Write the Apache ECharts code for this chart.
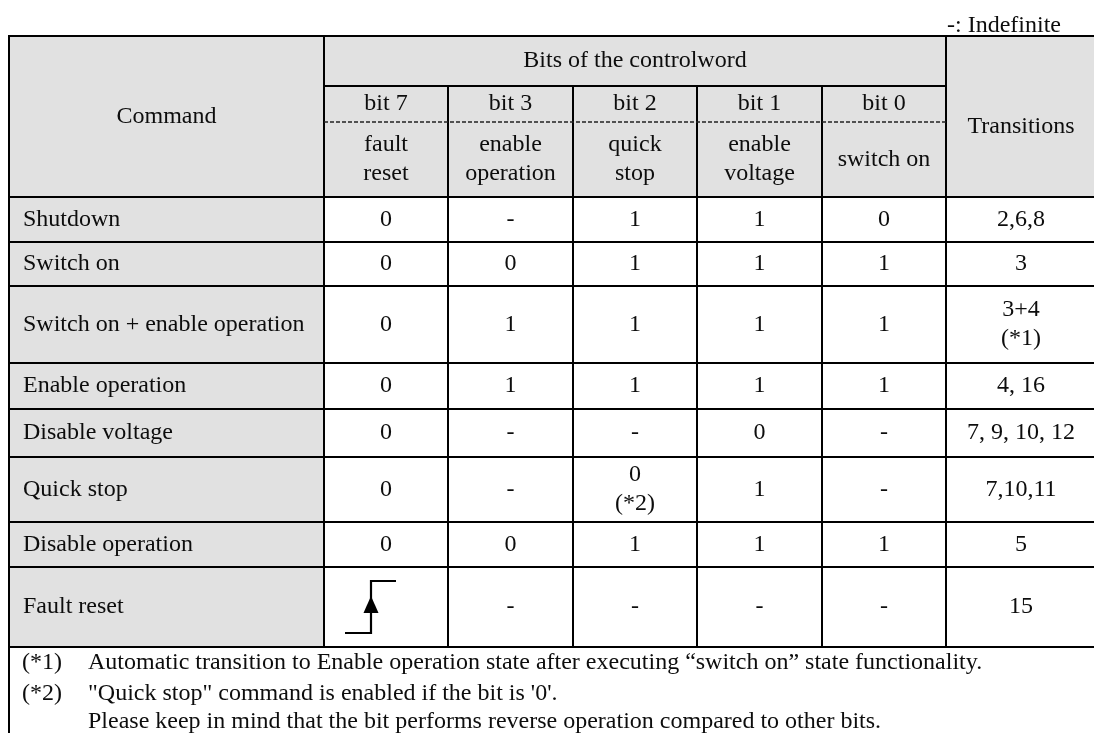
<!DOCTYPE html>
<html>
<head>
<meta charset="utf-8">
<script src="https://cdn.jsdelivr.net/npm/echarts@6/dist/echarts.min.js"></script>
<style>html,body{margin:0;padding:0;background:#fff;}#c{width:1094px;height:733px;}</style>
</head>
<body>
<div id="c"></div>
<script>
// ---- content ----
const legendNote = '-: Indefinite';
const headerCommand = 'Command';
const headerBits = 'Bits of the controlword';
const headerTransitions = 'Transitions';
const bitNumbers = ['bit 7', 'bit 3', 'bit 2', 'bit 1', 'bit 0'];
const bitNames = ['fault\nreset', 'enable\noperation', 'quick\nstop', 'enable\nvoltage', 'switch on'];
const commands = ['Shutdown', 'Switch on', 'Switch on + enable operation', 'Enable operation',
  'Disable voltage', 'Quick stop', 'Disable operation', 'Fault reset'];
const bit7 = ['0', '0', '0', '0', '0', '0', '0', 'RISE'];
const bit3 = ['-', '0', '1', '1', '-', '-', '0', '-'];
const bit2 = ['1', '1', '1', '1', '-', '0\n(*2)', '1', '-'];
const bit1 = ['1', '1', '1', '1', '0', '1', '1', '-'];
const bit0 = ['0', '1', '1', '1', '-', '-', '1', '-'];
const transitions = ['2,6,8', '3', '3+4\n(*1)', '4, 16', '7, 9, 10, 12', '7,10,11', '5', '15'];
const footMarks = ['(*1)', '(*2)', ''];
const footTexts = [
  'Automatic transition to Enable operation state after executing \u201cswitch on\u201d state functionality.',
  '"Quick stop" command is enabled if the bit is \'0\'.',
  'Please keep in mind that the bit performs reverse operation compared to other bits.'
];

// ---- layout (axis units) ----
const colEdges = [9, 324, 448, 573, 697, 822, 946, 1096];
const headEdges = [36, 86, 122, 197];
const rowEdges = [197, 242, 286, 363, 409, 457, 522, 567, 647];
const footBottom = 745;
const GREY = '#e1e1e1';
const INK = '#0d0d0d';
const FONT = 'Liberation Serif';

const bitCols = [bit7, bit3, bit2, bit1, bit0];
const cells = [];
function add(x0, y0, x1, y1, o) { cells.push(Object.assign({ v: [x0, y0, x1, y1] }, o)); }

// header
add(colEdges[0], headEdges[0], colEdges[1], headEdges[3], { fill: GREY, texts: [{ t: headerCommand }] });
add(colEdges[1], headEdges[0], colEdges[6], headEdges[1], { fill: GREY, texts: [{ t: headerBits }] });
for (let i = 0; i < 5; i++) {
  add(colEdges[1 + i], headEdges[1], colEdges[2 + i], headEdges[3], { fill: GREY, texts: [] });
  add(colEdges[1 + i], headEdges[1], colEdges[2 + i], headEdges[2], { noStroke: true, texts: [{ t: bitNumbers[i] }] });
  add(colEdges[1 + i], headEdges[2], colEdges[2 + i], headEdges[3], { noStroke: true, texts: [{ t: bitNames[i] }] });
}
add(colEdges[6], headEdges[0], colEdges[7], headEdges[3], { fill: GREY, texts: [{ t: headerTransitions, dy: 10 }] });
add(colEdges[1], headEdges[2], colEdges[6], headEdges[2], { kind: 'dash' });

// body
for (let r = 0; r < commands.length; r++) {
  const y0 = rowEdges[r], y1 = rowEdges[r + 1];
  add(colEdges[0], y0, colEdges[1], y1, { fill: GREY, texts: [{ t: commands[r], align: 'left' }] });
  for (let i = 0; i < 5; i++) {
    const val = bitCols[i][r];
    if (val === 'RISE') add(colEdges[1 + i], y0, colEdges[2 + i], y1, { fill: '#fff', rise: true, texts: [] });
    else add(colEdges[1 + i], y0, colEdges[2 + i], y1, { fill: '#fff', texts: [{ t: val }] });
  }
  add(colEdges[6], y0, colEdges[7], y1, { fill: '#fff', texts: [{ t: transitions[r] }] });
}
// footnotes
add(colEdges[0], rowEdges[rowEdges.length - 1], colEdges[7], footBottom, { fill: '#fff', foot: true, texts: [] });

function txt(s, x, y, align) {
  return {
    type: 'text',
    style: {
      text: s, x: x, y: y, align: align || 'center', verticalAlign: 'middle',
      fontFamily: FONT, fontSize: 24, lineHeight: 29, fill: INK
    }
  };
}

function renderItem(params, api) {
  const c = cells[params.dataIndex];
  const p0 = api.coord([api.value(0), api.value(1)]);
  const p1 = api.coord([api.value(2), api.value(3)]);
  const ch = [];
  if (c.kind === 'dash') {
    ch.push({ type: 'line', shape: { x1: p0[0], y1: p0[1], x2: p1[0], y2: p1[1] },
      style: { stroke: '#222', lineWidth: 1.3, lineDash: [4, 2] } });
    return { type: 'group', children: ch };
  }
  if (!c.noStroke) {
    ch.push({ type: 'rect', shape: { x: p0[0], y: p0[1], width: p1[0] - p0[0], height: p1[1] - p0[1] },
      style: { fill: c.fill, stroke: '#000', lineWidth: 2 } });
  }
  const cx = (p0[0] + p1[0]) / 2, cy = (p0[1] + p1[1]) / 2;
  c.texts.forEach(function (t) {
    if (t.align === 'left') ch.push(txt(t.t, p0[0] + 14, cy + (t.dy || 0), 'left'));
    else ch.push(txt(t.t, cx + (t.dx || 0), cy + (t.dy || 0)));
  });
  if (c.rise) {
    const sx = cx - 15;
    ch.push({ type: 'polyline', shape: { points: [[cx - 41, cy + 26], [sx, cy + 26], [sx, cy - 26], [cx + 10, cy - 26]] },
      style: { stroke: '#000', lineWidth: 2.2, fill: null } });
    ch.push({ type: 'polygon', shape: { points: [[sx, cy - 11], [sx - 7.5, cy + 6], [sx + 7.5, cy + 6]] },
      style: { fill: '#000' } });
  }
  if (c.foot) {
    const lines = [16, 47, 75];
    for (let k = 0; k < footTexts.length; k++) {
      if (footMarks[k]) ch.push(txt(footMarks[k], p0[0] + 13, p0[1] + lines[k], 'left'));
      ch.push(txt(footTexts[k], p0[0] + 79, p0[1] + lines[k], 'left'));
    }
  }
  return { type: 'group', children: ch };
}

const chart = echarts.init(document.getElementById('c'), null, { renderer: 'canvas' });
chart.setOption({
  animation: false,
  backgroundColor: '#fff',
  title: {
    text: legendNote, right: 28, top: 9,
    textStyle: { fontFamily: FONT, fontSize: 24, fontWeight: 'normal', color: INK }
  },
  grid: { left: 0, right: 0, top: 0, bottom: 0 },
  xAxis: { type: 'value', min: 0, max: 1094, show: false },
  yAxis: { type: 'value', min: 0, max: 733, inverse: true, show: false },
  series: [{
    type: 'custom',
    clip: false,
    renderItem: renderItem,
    data: cells.map(function (c) { return c.v; })
  }]
});
</script>
</body>
</html>
